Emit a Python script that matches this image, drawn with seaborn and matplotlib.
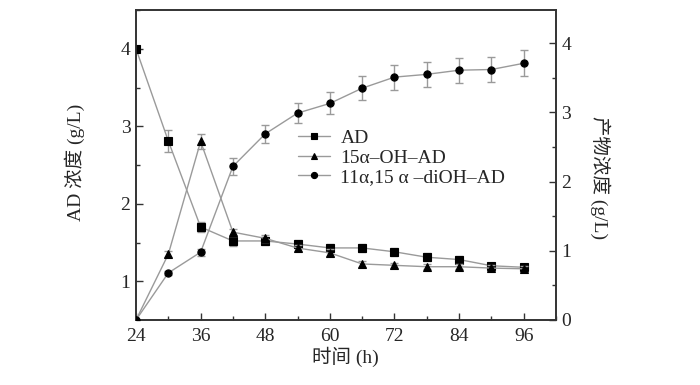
import numpy as np
import pandas as pd
import seaborn as sns
import matplotlib
matplotlib.use("Agg")
import matplotlib.pyplot as plt
from matplotlib.ticker import MultipleLocator

sns.set_style("ticks")
plt.rcParams["font.family"] = ["Liberation Serif", "Noto Sans CJK SC"]
plt.rcParams["axes.unicode_minus"] = False

# 数据
time_h = [24, 30, 36, 42, 48, 54, 60, 66, 72, 78, 84, 90, 96]
ad = [4.00, 2.81, 1.70, 1.52, 1.52, 1.48, 1.43, 1.43, 1.38, 1.31, 1.28, 1.20, 1.18]
ad_err = [0.00, 0.14, 0.07, 0.06, 0.05, 0.05, 0.05, 0.05, 0.05, 0.05, 0.05, 0.04, 0.04]
oh15 = [0.00, 0.95, 2.58, 1.27, 1.18, 1.04, 0.97, 0.81, 0.79, 0.77, 0.77, 0.75, 0.74]
oh15_err = [0.00, 0.04, 0.11, 0.05, 0.05, 0.05, 0.05, 0.04, 0.04, 0.04, 0.04, 0.04, 0.04]
dioh = [0.00, 0.68, 0.98, 2.22, 2.69, 2.99, 3.13, 3.35, 3.51, 3.55, 3.61, 3.62, 3.71]
dioh_err = [0.00, 0.03, 0.05, 0.12, 0.13, 0.15, 0.16, 0.17, 0.18, 0.18, 0.18, 0.18, 0.19]

labels = ["AD", "15α–OH–AD", "11α,15 α –diOH–AD"]
x_ticks = [24, 36, 48, 60, 72, 84, 96]

line_c = "#9a9a9a"
spine_c = "#333333"

fig = plt.figure(figsize=(7, 3.85), dpi=100)
ax = fig.add_axes([136 / 700, 65 / 385, 420 / 700, 310 / 385])
ax2 = ax.twinx()

df = pd.DataFrame({"t": time_h, "AD": ad, "OH15": oh15, "DIOH": dioh})

common = dict(color=line_c, linewidth=1.0, markersize=5.2, zorder=3,
              markerfacecolor="black", markeredgecolor="black",
              markeredgewidth=0.8)
eb = dict(fmt="none", ecolor=line_c, elinewidth=1.0, capsize=3, zorder=1)

# 误差棒先画，折线与标记在上
ax.errorbar(time_h, ad, yerr=ad_err, **eb)
sns.lineplot(data=df, x="t", y="AD", ax=ax, marker="s", label=labels[0],
             legend=False, **common)

ax2.errorbar(time_h, oh15, yerr=oh15_err, **eb)
ax2.errorbar(time_h, dioh, yerr=dioh_err, **eb)
sns.lineplot(data=df, x="t", y="OH15", ax=ax2, marker="^", label=labels[1],
             legend=False, **common)
sns.lineplot(data=df, x="t", y="DIOH", ax=ax2, marker="o", label=labels[2],
             legend=False, **common)

ax.set_xlim(24, 102)
ax.set_ylim(0.5, 4.5)
ax2.set_ylim(0, 4.48)
ax.set_xticks(x_ticks)
ax.xaxis.set_minor_locator(MultipleLocator(6))
ax.set_yticks([1, 2, 3, 4])
ax.yaxis.set_minor_locator(MultipleLocator(0.5))
ax2.set_yticks([0, 1, 2, 3, 4])
ax2.yaxis.set_minor_locator(MultipleLocator(0.5))

for a in (ax, ax2):
    a.tick_params(which="major", direction="in", length=5, width=1,
                  color=spine_c, labelsize=14, pad=4)
    a.tick_params(which="minor", direction="in", length=3, width=1,
                  color=spine_c)
    for s in a.spines.values():
        s.set_color(spine_c)
        s.set_linewidth(1.2)
ax.tick_params(top=False, right=False, which="both")
ax.tick_params(axis="x", pad=6)

ax.set_xlabel("时间 (h)", fontsize=14, va="center")
ax.set_ylabel("AD 浓度 (g/L)", fontsize=14, va="center")
ax2.set_ylabel("产物浓度 (g/L)", fontsize=14, rotation=-90, va="center")
ax.xaxis.set_label_coords(0.498, -0.12)
ax.yaxis.set_label_coords(-0.145, 0.51)
ax2.yaxis.set_label_coords(1.105, 0.46)

h1, l1 = ax.get_legend_handles_labels()
h2, l2 = ax2.get_legend_handles_labels()
leg = ax2.legend(h1 + h2, l1 + l2, loc="upper left",
                 bbox_to_anchor=(0.385, 0.615), frameon=False, fontsize=14,
                 handlelength=1.65, handletextpad=0.55, labelspacing=0.1,
                 borderpad=0, borderaxespad=0, markerscale=0.85)

fig.savefig("out.png", dpi=100)
